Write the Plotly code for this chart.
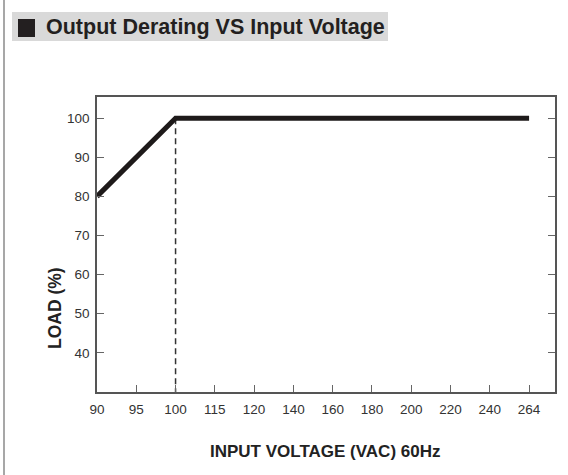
import plotly.graph_objects as go

# ---- data ----
x_categories = ["90", "95", "100", "115", "120", "140", "160", "180", "200", "220", "240", "264"]
curve_voltage = ["90", "100", "264"]
curve_load = [80, 100, 100]
dash_voltage = ["100", "100"]
dash_load = [100, 30]
y_ticks = [40, 50, 60, 70, 80, 90, 100]

W, H = 568, 475
L, R, T, B = 97, 13, 97, 83
PW, PH = W - L - R, H - T - B

def px(x):
    return (x - L) / PW

def py(y):
    return (H - B - y) / PH

fig = go.Figure()
fig.add_trace(go.Scatter(x=dash_voltage, y=dash_load, mode="lines",
                         line=dict(color="#333333", width=1.5, dash="6px,4px"),
                         hoverinfo="skip", showlegend=False))
fig.add_trace(go.Scatter(x=curve_voltage, y=curve_load, mode="lines",
                         line=dict(color="#1e1a1a", width=5),
                         showlegend=False))

fig.update_layout(
    width=W, height=H,
    margin=dict(l=L, r=R, t=T, b=B),
    paper_bgcolor="white", plot_bgcolor="white",
    font=dict(family="Liberation Sans, Arial, sans-serif", color="#333333"),
    xaxis=dict(type="category", categoryorder="array", categoryarray=x_categories,
               range=[0, 11.66], tickvals=x_categories, ticktext=x_categories,
               ticks="inside", ticklen=7, tickcolor="#666666", tickwidth=1,
               showline=True, linecolor="#555555", linewidth=1.5, mirror=True,
               showgrid=False, zeroline=False, ticklabelstandoff=4,
               tickfont=dict(size=13.5, color="#333333")),
    yaxis=dict(range=[30, 105.4], tickvals=y_ticks,
               ticks="inside", ticklen=7, tickcolor="#666666", tickwidth=1,
               showline=True, linecolor="#555555", linewidth=1.5, mirror="ticks",
               showgrid=False, zeroline=False, ticklabelstandoff=3,
               tickfont=dict(size=13.5, color="#333333")),
)

# axis titles
fig.add_annotation(xref="paper", yref="paper", x=px(325), y=py(451),
                   xanchor="center", yanchor="middle", showarrow=False,
                   text="<b>INPUT VOLTAGE (VAC) 60Hz</b>",
                   font=dict(size=17, color="#222222"))
fig.add_annotation(xref="paper", yref="paper", x=px(55), y=py(308),
                   xanchor="center", yanchor="middle", showarrow=False,
                   textangle=-90, text="<b>LOAD (%)</b>",
                   font=dict(size=17.5, color="#222222"))

# title bar
fig.add_shape(type="rect", xref="paper", yref="paper",
              x0=px(12), x1=px(388), y0=py(41), y1=py(12),
              fillcolor="#d9d9d9", line=dict(width=0), layer="below")
fig.add_shape(type="rect", xref="paper", yref="paper",
              x0=px(18), x1=px(35), y0=py(37), y1=py(19),
              fillcolor="#231f20", line=dict(width=0))
fig.add_annotation(xref="paper", yref="paper", x=px(44), y=py(27), xanchor="left",
                   yanchor="middle", showarrow=False,
                   text="<b>Output Derating VS Input Voltage</b>",
                   font=dict(size=21.5, color="#231f20"))
# left border line
fig.add_shape(type="line", xref="paper", yref="paper",
              x0=px(4), x1=px(4), y0=py(475), y1=py(0),
              line=dict(color="#8a8a8a", width=1.5))

fig.write_html("out.html")
